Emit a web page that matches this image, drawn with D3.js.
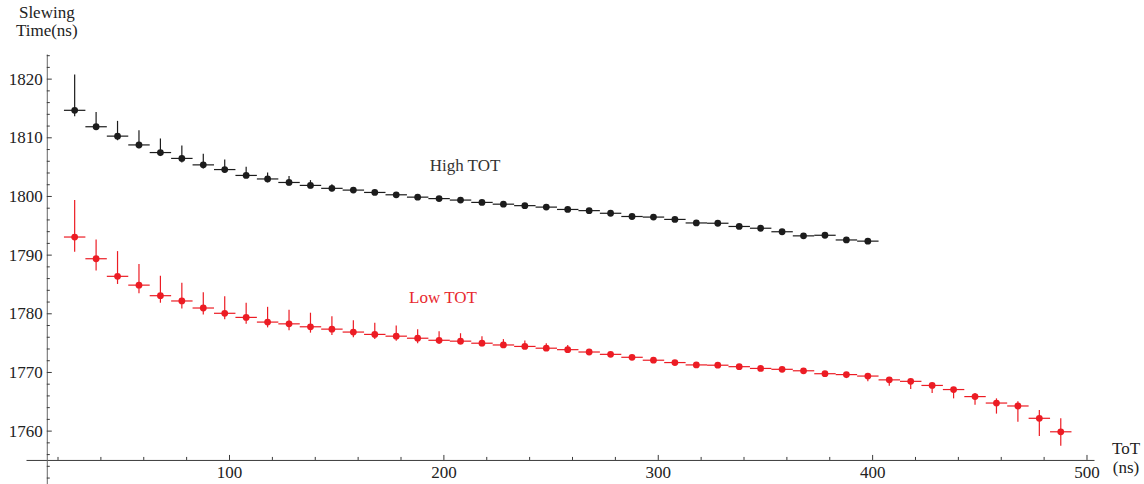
<!DOCTYPE html>
<html>
<head>
<meta charset="utf-8">
<script src="https://cdn.jsdelivr.net/npm/d3@7"></script>
<style>
  body { margin: 0; background: #fff; }
</style>
</head>
<body>
<svg id="chart" width="1144" height="484"></svg>
<script>
// ToT bin centres (ns)
const totBins = [28, 38, 48, 58, 68, 78, 88, 98, 108, 118, 128, 138, 148, 158, 168, 178,
  188, 198, 208, 218, 228, 238, 248, 258, 268, 278, 288, 298, 308, 318, 328, 338, 348,
  358, 368, 378, 388, 398, 408, 418, 428, 438, 448, 458, 468, 478, 488];

// High TOT series (black)
const highValues = [1814.6, 1811.8, 1810.2, 1808.7, 1807.4, 1806.4, 1805.3, 1804.5, 1803.5, 1802.9,
  1802.3, 1801.8, 1801.3, 1801.0, 1800.6, 1800.2, 1799.8, 1799.55, 1799.3, 1798.9,
  1798.6, 1798.35, 1798.1, 1797.7, 1797.5, 1797.05, 1796.5, 1796.4, 1796.0, 1795.4,
  1795.35, 1794.8, 1794.5, 1793.9, 1793.2, 1793.3, 1792.5, 1792.3];
const highErrUp = [6.1, 2.5, 2.6, 2.5, 2.4, 2.2, 1.9, 1.7, 1.5, 1.1,
  1.1, 0.9, 0.7, 0.5, 0.4, 0.3, 0.3, 0.2, 0.2, 0.2,
  0.15, 0.15, 0.15, 0.15, 0.15, 0.15, 0.15, 0.15, 0.15, 0.15,
  0.15, 0.15, 0.15, 0.15, 0.15, 0.15, 0.15, 0.15];
const highErrDown = [1.0, 0.4, 0.7, 0.6, 0.6, 0.7, 0.6, 0.5, 0.4, 0.6,
  0.5, 0.5, 0.5, 0.3, 0.3, 0.3, 0.2, 0.2, 0.2, 0.2,
  0.2, 0.2, 0.2, 0.2, 0.2, 0.2, 0.2, 0.2, 0.2, 0.2,
  0.2, 0.2, 0.2, 0.2, 0.2, 0.4, 0.2, 0.2];

// Low TOT series (red)
const lowValues = [1793.0, 1789.3, 1786.3, 1784.8, 1783.0, 1782.1, 1780.9, 1780.0, 1779.3, 1778.5,
  1778.2, 1777.7, 1777.3, 1776.8, 1776.4, 1776.1, 1775.75, 1775.4, 1775.25, 1774.9,
  1774.6, 1774.35, 1774.05, 1773.8, 1773.4, 1773.0, 1772.5, 1772.0, 1771.6, 1771.2,
  1771.15, 1770.9, 1770.6, 1770.45, 1770.2, 1769.7, 1769.55, 1769.3, 1768.65, 1768.4,
  1767.7, 1767.0, 1765.8, 1764.7, 1764.2, 1762.1, 1759.8];
const lowErrUp = [6.3, 3.3, 4.3, 3.6, 3.4, 3.1, 2.7, 2.9, 2.5, 2.6,
  2.4, 2.4, 2.2, 2.0, 2.0, 1.8, 1.55, 1.55, 1.35, 1.2,
  1.0, 1.0, 0.85, 0.8, 0.4, 0.3, 0.3, 0.3, 0.3, 0.3,
  0.3, 0.3, 0.3, 0.3, 0.3, 0.3, 0.3, 0.3, 0.3, 0.3,
  0.3, 0.3, 0.6, 0.8, 0.8, 1.4, 2.3];
const lowErrDown = [2.5, 2.0, 1.3, 1.4, 1.2, 1.3, 1.1, 1.0, 1.1, 0.9,
  1.1, 1.0, 1.0, 0.9, 0.8, 0.8, 0.85, 0.6, 0.55, 0.5,
  0.5, 0.4, 0.3, 0.3, 0.3, 0.3, 0.3, 0.3, 0.3, 0.3,
  0.3, 0.3, 0.3, 0.3, 0.5, 0.5, 0.6, 0.9, 1.0, 1.3,
  1.3, 1.5, 1.4, 1.8, 2.7, 3.0, 2.4];

const binHalfWidth = 5;

// axis ticks
const xMajorTicks = [100, 200, 300, 400, 500];
const xMinorTicks = [20, 40, 60, 80, 120, 140, 160, 180, 220, 240, 260, 280,
  320, 340, 360, 380, 420, 440, 460, 480];
const yMajorTicks = [1760, 1770, 1780, 1790, 1800, 1810, 1820];
const yMinorTicks = [1752, 1754, 1756, 1758, 1762, 1764, 1766, 1768, 1772, 1774, 1776, 1778,
  1782, 1784, 1786, 1788, 1792, 1794, 1796, 1798, 1802, 1804, 1806, 1808,
  1812, 1814, 1816, 1818, 1822, 1824];

const serif = '"Liberation Serif"';
const svg = d3.select("#chart");

// scales (plot range as Mathematica shows it)
const x = d3.scaleLinear().domain([5.3, 503.5]).range([26, 1094]);
const y = d3.scaleLinear().domain([1750.9, 1824.2]).range([484, 54]);

const axisColor = "#3a3a3a";
const xAxisY = y(1755);
const yAxisX = x(15);
const fmt = d3.format("d");

// x axis
const gxMinor = svg.append("g")
  .attr("transform", `translate(0,${xAxisY})`)
  .call(d3.axisBottom(x).tickValues(xMinorTicks).tickSizeInner(-3).tickSizeOuter(0).tickFormat(""));
gxMinor.select(".domain").attr("stroke", axisColor);

const gxMajor = svg.append("g")
  .attr("transform", `translate(0,${xAxisY})`)
  .call(d3.axisBottom(x).tickValues(xMajorTicks).tickSizeInner(-5).tickSizeOuter(0)
    .tickPadding(6).tickFormat(fmt));
gxMajor.select(".domain").remove();

// y axis
const gyMinor = svg.append("g")
  .attr("transform", `translate(${yAxisX},0)`)
  .call(d3.axisLeft(y).tickValues(yMinorTicks).tickSizeInner(-3).tickSizeOuter(0).tickFormat(""));
gyMinor.select(".domain").attr("stroke", "#666");

const gyMajor = svg.append("g")
  .attr("transform", `translate(${yAxisX},0)`)
  .call(d3.axisLeft(y).tickValues(yMajorTicks).tickSizeInner(-5).tickSizeOuter(0)
    .tickPadding(4).tickFormat(fmt));
gyMajor.select(".domain").remove();

svg.selectAll(".tick line").attr("stroke", axisColor);
svg.selectAll(".tick text")
  .attr("fill", "#222")
  .style("font-family", serif)
  .style("font-size", "17px");

// axis titles
const titles = [
  { t: "Slewing", x: yAxisX, y: 18 },
  { t: "Time(ns)", x: yAxisX, y: 36 },
  { t: "ToT", x: 1126, y: 454 },
  { t: "(ns)", x: 1126, y: 473 },
];
svg.selectAll(".title")
  .data(titles)
  .enter()
  .append("text")
  .attr("class", "title")
  .attr("x", (d) => d.x)
  .attr("y", (d) => d.y)
  .attr("text-anchor", "middle")
  .attr("fill", "#222")
  .style("font-family", serif)
  .style("font-size", "17px")
  .text((d) => d.t);

// error-bar series
function drawSeries(values, errUp, errDown, color) {
  const pts = values.map((v, i) => ({ tot: totBins[i], v, up: errUp[i], down: errDown[i] }));
  const g = svg.append("g");

  g.selectAll(".hbar")
    .data(pts)
    .enter()
    .append("line")
    .attr("x1", (d) => x(d.tot - binHalfWidth))
    .attr("x2", (d) => x(d.tot + binHalfWidth))
    .attr("y1", (d) => y(d.v))
    .attr("y2", (d) => y(d.v))
    .attr("stroke", color)
    .attr("stroke-width", 1.2);

  g.selectAll(".vbar")
    .data(pts)
    .enter()
    .append("line")
    .attr("x1", (d) => x(d.tot))
    .attr("x2", (d) => x(d.tot))
    .attr("y1", (d) => y(d.v + d.up))
    .attr("y2", (d) => y(d.v - d.down))
    .attr("stroke", color)
    .attr("stroke-width", 1.2);

  g.selectAll(".dot")
    .data(pts)
    .enter()
    .append("circle")
    .attr("cx", (d) => x(d.tot))
    .attr("cy", (d) => y(d.v))
    .attr("r", 3.4)
    .attr("fill", color);
}

drawSeries(highValues, highErrUp, highErrDown, "#1c1c1c");
drawSeries(lowValues, lowErrUp, lowErrDown, "#ec1c24");

// series labels
const seriesLabels = [
  { t: "High TOT", x: 465, y: 171, c: "#333" },
  { t: "Low TOT", x: 443, y: 303, c: "#e8282e" },
];
svg.selectAll(".series-label")
  .data(seriesLabels)
  .enter()
  .append("text")
  .attr("class", "series-label")
  .attr("x", (d) => d.x)
  .attr("y", (d) => d.y)
  .attr("text-anchor", "middle")
  .attr("fill", (d) => d.c)
  .style("font-family", serif)
  .style("font-size", "17px")
  .text((d) => d.t);
</script>
</body>
</html>
